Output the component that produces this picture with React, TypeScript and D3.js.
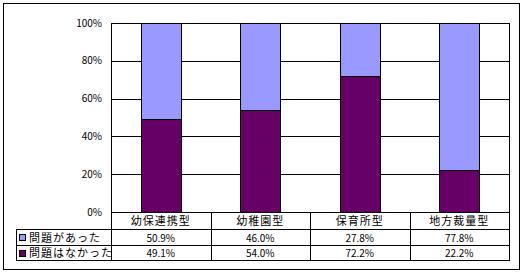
import React from "react";
import * as d3 from "d3";

const categories = ["幼保連携型", "幼稚園型", "保育所型", "地方裁量型"];
const seriesNames = ["問題があった", "問題はなかった"];
const hadProblem = [50.9, 46.0, 27.8, 77.8];
const noProblem = [49.1, 54.0, 72.2, 22.2];
const yTicks = [0, 20, 40, 60, 80, 100];
const colors = ["#9999FF", "#660066"];

export default function App() {
  const W = 525, H = 275;
  const left = 111, right = 509, top = 23, bottom = 212;
  const x = d3.scaleBand<string>().domain(categories).range([left, right]).padding(0);
  const y = d3.scaleLinear().domain([0, 100]).range([bottom, top]);
  const barW = 40;
  const stack = d3.stack<any>().keys(["no", "had"])(
    categories.map((c, i) => ({ cat: c, no: noProblem[i], had: hadProblem[i] }))
  );
  const rowY = [229, 245, 260];
  const font = "'Noto Sans CJK JP', sans-serif";
  const fmt = (v: number) => v.toFixed(1) + "%";
  const rows = [hadProblem, noProblem];

  return (
    <svg width={W} height={H} style={{ position: "absolute", left: 0, top: 0, background: "#fff" }}>
      <rect x={3.5} y={3.5} width={516} height={266} fill="#fff" stroke="#000" strokeWidth={1} />
      {/* gridlines */}
      {yTicks.map((t) => (
        <line key={t} x1={left} x2={right} y1={Math.round(y(t)) + 0.5} y2={Math.round(y(t)) + 0.5} stroke="#000" />
      ))}
      {/* bars */}
      {stack.map((layer, li) =>
        layer.map((d, i) => {
          const cx = (x(categories[i]) as number) + x.bandwidth() / 2;
          const y0 = Math.round(y(d[0]));
          const y1 = Math.round(y(d[1]));
          return (
            <rect
              key={li + "-" + i}
              x={Math.round(cx - barW / 2) + 0.5}
              y={y1 + 0.5}
              width={barW}
              height={y0 - y1}
              fill={li === 0 ? colors[1] : colors[0]}
              stroke="#000"
              strokeWidth={1}
            />
          );
        })
      )}
      {/* plot border */}
      <rect x={left + 0.5} y={top + 0.5} width={right - left} height={bottom - top} fill="none" stroke="#000" />
      {/* y labels */}
      {yTicks.map((t) => (
        <text key={"l" + t} x={102} y={y(t)} dy="0.35em" textAnchor="end" fontFamily={font} fontSize={10}>
          {t + "%"}
        </text>
      ))}
      {/* data table lines */}
      {rowY.map((ry) => (
        <line key={"h" + ry} x1={16} x2={right} y1={ry + 0.5} y2={ry + 0.5} stroke="#000" />
      ))}
      <line x1={16.5} x2={16.5} y1={rowY[0]} y2={rowY[2] + 1} stroke="#000" />
      {categories.map((c) => (
        <line
          key={"v" + c}
          x1={Math.round(x(c) as number) + 0.5}
          x2={Math.round(x(c) as number) + 0.5}
          y1={bottom}
          y2={rowY[2] + 1}
          stroke="#000"
        />
      ))}
      <line x1={right + 0.5} x2={right + 0.5} y1={bottom} y2={rowY[2] + 1} stroke="#000" />
      {/* category labels */}
      {categories.map((c) => (
        <text
          key={"c" + c}
          x={(x(c) as number) + x.bandwidth() / 2}
          y={(bottom + rowY[0]) / 2 + 1}
          dy="0.35em"
          textAnchor="middle"
          fontFamily={font}
          fontSize={11}
          letterSpacing={1}
        >
          {c}
        </text>
      ))}
      {/* legend + values */}
      {seriesNames.map((s, ri) => {
        const cy = (rowY[ri] + rowY[ri + 1]) / 2 + 1;
        return (
          <g key={s}>
            <rect x={19.5} y={Math.round(cy) - 3.5} width={6} height={6} fill={colors[ri]} stroke="#000" />
            <text x={29} y={cy} dy="0.35em" fontFamily={font} fontSize={11} letterSpacing={1}>
              {s}
            </text>
            {categories.map((c, i) => (
              <text
                key={c}
                x={(x(c) as number) + x.bandwidth() / 2}
                y={cy}
                dy="0.35em"
                textAnchor="middle"
                fontFamily={font}
                fontSize={10}
              >
                {fmt(rows[ri][i])}
              </text>
            ))}
          </g>
        );
      })}
    </svg>
  );
}
